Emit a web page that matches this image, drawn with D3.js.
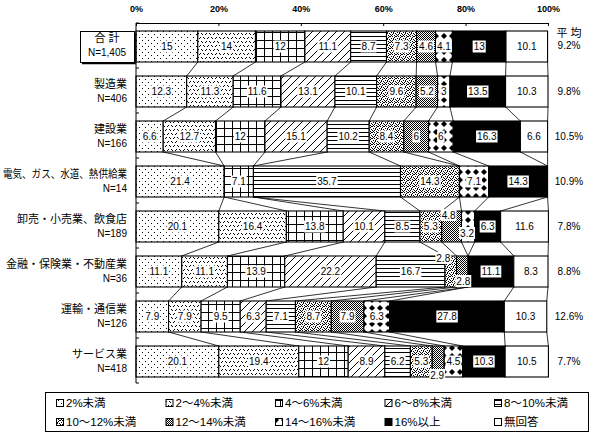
<!DOCTYPE html>
<html><head><meta charset="utf-8">
<script src="https://cdn.jsdelivr.net/npm/d3@7/dist/d3.min.js"></script>
<style>
html,body{margin:0;padding:0;background:#fff;}
svg{display:block;}
text{font-family:"Liberation Sans","Noto Sans CJK JP",sans-serif;fill:#000;}
</style></head>
<body>
<svg id="c" width="596" height="435"></svg>
<script>
// ---- data ----
const categories = ["合計","製造業","建設業","電気、ガス、水道、熱供給業","卸売・小売業、飲食店","金融・保険業・不動産業","運輸・通信業","サービス業"];
const nLabels = ["N=1,405","N=406","N=166","N=14","N=189","N=36","N=126","N=418"];
const seriesNames = ["2%未満","2～4%未満","4～6%未満","6～8%未満","8～10%未満","10～12%未満","12～14%未満","14～16%未満","16%以上","無回答"];
const sLt2   = [15, 12.3, 6.6, 21.4, 20.1, 11.1, 7.9, 20.1];
const s2to4  = [14, 11.3, 12.7, 0, 16.4, 11.1, 7.9, 19.4];
const s4to6  = [12, 11.6, 12, 7.1, 13.8, 13.9, 9.5, 12];
const s6to8  = [11.1, 13.1, 15.1, 0, 10.1, 22.2, 6.3, 8.9];
const s8to10 = [8.7, 10.1, 10.2, 35.7, 8.5, 16.7, 7.1, 6.2];
const s10to12= [7.3, 9.6, 8.4, 14.3, 5.3, 2.8, 8.7, 5.3];
const s12to14= [4.6, 5.2, 6, 0, 4.8, 2.8, 7.9, 2.9];
const s14to16= [4.1, 3, 6, 7.1, 3.2, 0, 6.3, 4.5];
const s16up  = [13, 13.5, 16.3, 14.3, 6.3, 11.1, 27.8, 10.3];
const sNA    = [10.1, 10.3, 6.6, 0, 11.6, 8.3, 10.3, 10.5];
const averages = ["9.2%","9.8%","10.5%","10.9%","7.8%","8.8%","12.6%","7.7%"];
const avgTitle = "平 均";
const tickValues = [0,20,40,60,80,100];

const seriesValues = [sLt2,s2to4,s4to6,s6to8,s8to10,s10to12,s12to14,s14to16,s16up,sNA];

// label nudges (layout only): key "row-series" -> [dx,dy]
const nudge = {"4-6":[-3,-11.5],"4-7":[-1,6.5],"5-5":[-7.5,-13.5],"5-6":[1,9.5],"7-6":[-1,13.5]};

// ---- chart ----
const svg = d3.select("#c");
const defs = svg.append("defs");
function pat(id,w,h,draw){
  const p = defs.append("pattern").attr("id",id).attr("patternUnits","userSpaceOnUse")
    .attr("width",w).attr("height",h);
  p.append("rect").attr("width",w).attr("height",h).attr("fill","#fff");
  const g = p.append("g").attr("fill","#000").attr("shape-rendering","crispEdges");
  draw(g);
}
function dots(g,pts,s){pts.forEach(([a,b])=>g.append("rect").attr("x",a).attr("y",b).attr("width",s).attr("height",s));}
pat("p0",6,6,g=>dots(g,[[1,1],[4,4]],1));
pat("p1",8,8,g=>dots(g,[[1,1],[2,2],[6,1],[5,2],[3,5],[4,6],[7,6],[0,5]],1));
pat("p2",8,8,g=>{g.append("rect").attr("width",8).attr("height",1);g.append("rect").attr("width",1).attr("height",8);});
pat("p3",8,8,g=>{g.append("path").attr("d","M0,8L8,0M-1,1L1,-1M7,9L9,7").attr("stroke","#000").attr("stroke-width",1).attr("shape-rendering","auto");});
pat("p4",4,4,g=>g.append("rect").attr("width",4).attr("height",1));
pat("p5",6,6,g=>dots(g,[[0,0],[2,0],[4,1],[1,2],[3,2],[5,3],[0,4],[2,4],[4,5],[1,5],[3,3],[5,0]],1));
pat("p6",2,2,g=>dots(g,[[0,0],[1,1]],1));
pat("p7",8,8,g=>g.append("path").attr("d","M4,1L7,4L4,7L1,4Z").attr("shape-rendering","auto"));
const fills = ["url(#p0)","url(#p1)","url(#p2)","url(#p3)","url(#p4)","url(#p5)","url(#p6)","url(#p7)","#000","#fff"];

const x = d3.scaleLinear().domain([0,100]).range([136,548]);
const band = d3.scaleBand().domain(categories).range([23,383]);
const barOff = band.bandwidth()*8/45, barH = band.bandwidth()*31/45;
const barTop = c => band(c)+barOff;

// stacked data
const rows = categories.map((c,i)=>{
  let acc=0;
  const segs = seriesValues.map((arr,k)=>{const v=arr[i];const s={row:i,k,v,x0:acc,x1:acc+v};acc+=v;return s;});
  return {c,i,segs};
});

// connectors
const conn = svg.append("g").attr("stroke","#000").attr("stroke-width",0.8);
for(let i=0;i<rows.length-1;i++){
  const a=rows[i], b=rows[i+1];
  for(let k=0;k<seriesValues.length;k++){
    conn.append("line")
      .attr("x1",x(a.segs[k].x1)).attr("y1",barTop(a.c)+barH)
      .attr("x2",x(b.segs[k].x1)).attr("y2",barTop(b.c));
  }
}

// bars
const bars = svg.append("g");
rows.forEach(r=>{
  bars.selectAll(null).data(r.segs.filter(s=>s.v>0)).enter().append("rect")
    .attr("x",s=>x(s.x0)).attr("y",barTop(r.c))
    .attr("width",s=>x(s.x1)-x(s.x0)).attr("height",barH)
    .attr("fill",s=>fills[s.k]).attr("stroke","#000").attr("stroke-width",1.1);
});

// axes
const ax = d3.axisTop(x).tickValues(tickValues).tickFormat(d=>d+"%").tickSizeInner(-3).tickSizeOuter(0).tickPadding(11);
const axg = svg.append("g").attr("transform","translate(0,23)").call(ax);
axg.selectAll("text").attr("font-size",9).attr("font-weight","bold").attr("font-family","Liberation Sans");
axg.selectAll("path,line").attr("stroke","#000");
svg.append("line").attr("x1",x(0)).attr("x2",x(0)).attr("y1",23).attr("y2",383).attr("stroke","#000");
const bnds = categories.map(c=>band(c)).concat([383]);
svg.append("g").selectAll("line").data(bnds).enter().append("line")
  .attr("x1",x(0)).attr("x2",x(0)+3).attr("y1",d=>d).attr("y2",d=>d).attr("stroke","#000");

// segment labels
const lab = svg.append("g");
rows.forEach(r=>{
  r.segs.filter(s=>s.v>0).forEach(s=>{
    const nd = nudge[r.i+"-"+s.k]||[0,0];
    const cx = (x(s.x0)+x(s.x1))/2+nd[0], cy = barTop(r.c)+barH/2+nd[1];
    const g = lab.append("g");
    const rc = g.append("rect").attr("fill","#fff");
    const t = g.append("text").attr("x",cx).attr("y",cy).attr("dy","0.35em")
      .attr("text-anchor","middle").attr("font-size",10).text(String(s.v));
    const w = t.node().getComputedTextLength();
    rc.attr("x",cx-w/2-1).attr("y",cy-6).attr("width",w+2).attr("height",12);
  });
});

// left labels
const left = svg.append("g").attr("font-size",10);
rows.forEach(r=>{
  const cy = barTop(r.c)+barH/2;
  if(r.i===0){
    const bx=80, by=barTop(r.c), bw=54;
    left.append("rect").attr("x",bx+0.5).attr("y",by+0.5).attr("width",bw).attr("height",barH).attr("fill","#fff").attr("stroke","#000");
    left.append("path").attr("d",`M${bx+bw+1},${by+2}V${by+barH+1.5}H${bx+2}`).attr("fill","none").attr("stroke","#000").attr("stroke-width",1.5);
    left.append("text").attr("x",bx+bw/2).attr("y",cy-8).attr("dy","0.35em").attr("text-anchor","middle").attr("font-size",11).text("合 計");
    left.append("text").attr("x",bx+bw/2).attr("y",cy+6).attr("dy","0.35em").attr("text-anchor","middle").text(nLabels[r.i]);
  } else {
    const t = left.append("text").attr("x",127).attr("y",cy-7).attr("dy","0.35em").attr("text-anchor","end").attr("font-size",11).text(r.c);
    if(t.node().getComputedTextLength()>124) t.attr("textLength",124).attr("lengthAdjust","spacingAndGlyphs");
    left.append("text").attr("x",127).attr("y",cy+7).attr("dy","0.35em").attr("text-anchor","end").text(nLabels[r.i]);
  }
});

// right labels (averages)
const right = svg.append("g").attr("font-size",10).attr("text-anchor","middle");
right.append("text").attr("x",569).attr("y",33).attr("dy","0.35em").attr("font-size",11).text(avgTitle);
rows.forEach(r=>{
  const cy = barTop(r.c)+barH/2 - (r.i===0?1.5:0);
  right.append("text").attr("x",569).attr("y",cy).attr("dy","0.35em").text(averages[r.i]);
});

// legend
const lg = svg.append("g");
lg.append("rect").attr("x",45.5).attr("y",392.5).attr("width",543).attr("height",39).attr("fill","#fff").attr("stroke","#000");
seriesNames.forEach((n,k)=>{
  const col=k%5, row=Math.floor(k/5);
  const sx = 56+109.5*col, cy = 403+row*19;
  lg.append("rect").attr("x",sx+0.5).attr("y",cy-3.5).attr("width",7).attr("height",7).attr("fill",fills[k]).attr("stroke","#000");
  lg.append("text").attr("x",sx+10).attr("y",cy).attr("dy","0.35em").attr("font-size",11.5).text(n);
});
</script>
</body></html>
